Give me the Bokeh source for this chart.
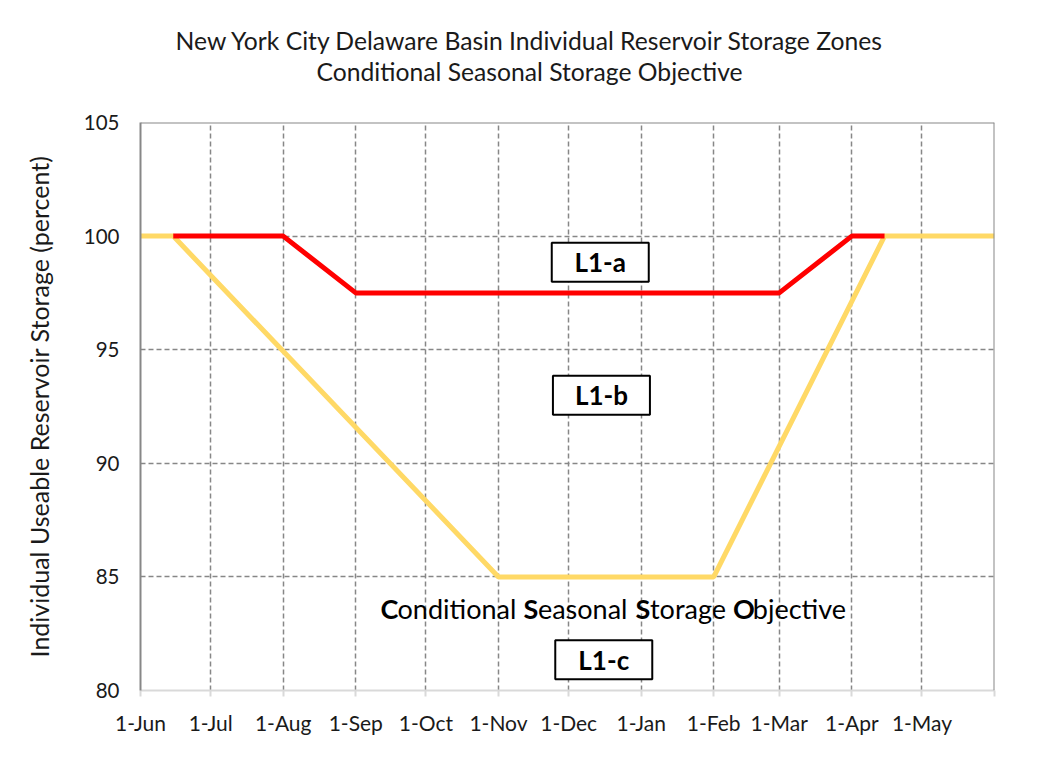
from bokeh.plotting import figure
from bokeh.models import FixedTicker, Span, Label, ColumnDataSource, Range1d, Title
from bokeh.core.properties import value
from bokeh.embed import file_html
from bokeh.resources import INLINE

# ---- data ----
month_labels = ["1-Jun", "1-Jul", "1-Aug", "1-Sep", "1-Oct", "1-Nov",
                "1-Dec", "1-Jan", "1-Feb", "1-Mar", "1-Apr", "1-May"]
month_days = [0, 30, 61, 92, 122, 153, 183, 214, 245, 273, 304, 334]
year_end_day = 365

# L1-a / L1-b boundary (red)
red_days = [14, 61, 92, 273, 304, 318]
red_pct = [100, 100, 97.5, 97.5, 100, 100]

# Conditional Seasonal Storage Objective (yellow)
yellow_days = [0, 14, 153, 245, 318, 365]
yellow_pct = [100, 100, 85, 85, 100, 100]

y_ticks = [80, 85, 90, 95, 100, 105]

FONT = "Lato"
TXT = "#1a1a1a"
GRID = "#878787"

p = figure(width=1030, height=760, output_backend="svg", toolbar_location=None,
           x_range=Range1d(0, year_end_day), y_range=Range1d(80, 105),
           min_border_left=140, min_border_right=36, min_border_top=122,
           min_border_bottom=70, background_fill_color="white",
           border_fill_color="white")
p.outline_line_color = None

# titles: p.title is outermost; p.above[0] sits next to the frame
p.title.text = "New York City Delaware Basin Individual Reservoir Storage Zones"
p.title.align = "left"
p.title.offset = 35
p.title.text_font = FONT
p.title.text_font_size = "24.7px"
p.title.text_font_style = "normal"
p.title.text_color = TXT
p.title.standoff = 0
p.add_layout(Title(text=" ", text_font=FONT, text_font_size="2px", standoff=33), "above")
p.add_layout(Title(text="Conditional Seasonal Storage Objective",
                   align="left", offset=176, text_font=FONT, text_font_size="24.7px",
                   text_font_style="normal", text_color=TXT, standoff=0), "above")

# axes
p.xaxis.ticker = FixedTicker(ticks=month_days + [year_end_day])
p.xaxis.major_label_overrides = {d: l for d, l in zip(month_days, month_labels)}
p.xaxis.major_label_overrides[year_end_day] = ""
p.xaxis.axis_line_color = "#d9d9d9"
p.xaxis.axis_line_width = 2
p.xaxis.major_tick_line_color = "#d9d9d9"
p.xaxis.major_tick_line_width = 2
p.xaxis.major_tick_out = 6
p.xaxis.major_tick_in = 0
p.xaxis.minor_tick_line_color = None
p.xaxis.major_label_standoff = 13
p.xaxis.major_label_text_font = FONT
p.xaxis.major_label_text_font_size = "21px"
p.xaxis.major_label_text_color = TXT

p.yaxis.ticker = FixedTicker(ticks=y_ticks)
p.yaxis.axis_line_color = GRID
p.yaxis.axis_line_width = 2
p.yaxis.major_tick_line_color = None
p.yaxis.minor_tick_line_color = None
p.yaxis.major_label_standoff = 15
p.yaxis.major_label_text_font = FONT
p.yaxis.major_label_text_font_size = "20.5px"
p.yaxis.major_label_text_color = TXT
p.yaxis.axis_label = "Individual Useable Reservoir Storage (percent)"
p.yaxis.axis_label_text_font = FONT
p.yaxis.axis_label_text_font_size = "25px"
p.yaxis.axis_label_text_font_style = "normal"
p.yaxis.axis_label_text_color = TXT
p.yaxis.axis_label_standoff = 27

# grid
for g in (p.xgrid, p.ygrid):
    g.grid_line_color = GRID
    g.grid_line_dash = "5 3"
    g.grid_line_width = 1.5
p.xgrid.ticker = FixedTicker(ticks=month_days[1:])
p.ygrid.ticker = FixedTicker(ticks=y_ticks[1:-1])

# solid frame on top and right
p.add_layout(Span(location=105, dimension="width", line_color=GRID, line_width=2))
p.add_layout(Span(location=year_end_day, dimension="height", line_color=GRID, line_width=2))

# series
p.line(yellow_days, yellow_pct, line_color="#FFD966", line_width=5)
p.line(red_days, red_pct, line_color="#FF0000", line_width=5)

# boxed zone labels
box_src = ColumnDataSource(dict(x=[196.5, 197, 198], y=[98.85, 93.0, 81.35],
                                t=["L1-a", "L1-b", "L1-c"]))
p.rect("x", "y", width=97, height=39, width_units="screen", height_units="screen",
       source=box_src, fill_color="white", line_color="black", line_width=2)
p.text("x", "y", text="t", source=box_src, text_font=value(FONT),
       text_font_style="bold", text_font_size="26px", text_align="center",
       text_baseline="middle", text_color="black")

# "Conditional Seasonal Storage Objective" with bold initials
words = [("C", "onditional", 102.6), ("S", "easonal", 163.7),
         ("S", "torage", 211.6), ("O", "bjective", 253.2)]
init_w = {"C": 17.0, "S": 14.4, "O": 19.9}
for first, rest, xd in words:
    p.add_layout(Label(x=xd, y=83.6, text=first, text_font=FONT, text_font_size="27px",
                       text_font_style="bold", text_baseline="middle", text_align="left",
                       text_color="black"))
    p.add_layout(Label(x=xd, y=83.6, x_offset=init_w[first], text=rest, text_font=FONT,
                       text_font_size="27px", text_baseline="middle", text_align="left",
                       text_color="black"))

open("out.html", "w").write(file_html(p, INLINE))
